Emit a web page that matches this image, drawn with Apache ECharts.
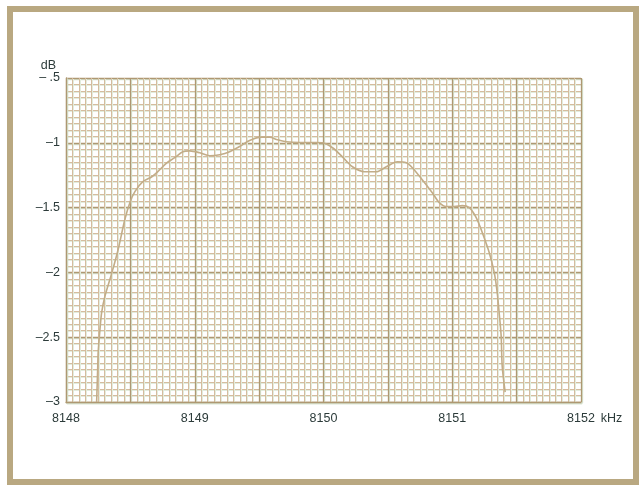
<!DOCTYPE html>
<html>
<head>
<meta charset="utf-8">
<script src="https://cdn.jsdelivr.net/npm/echarts@6/dist/echarts.min.js"></script>
<style>
html,body{margin:0;padding:0;background:#fff;}
#chart{width:642px;height:485px;}
</style>
</head>
<body>
<div id="chart"></div>
<script>
// Frequency response of the filter (kHz vs dB)
var freqKHz = [8148.238, 8148.246, 8148.250, 8148.264, 8148.277, 8148.302, 8148.357, 8148.405, 8148.457, 8148.496,
  8148.535, 8148.597, 8148.667, 8148.713, 8148.783, 8148.845, 8148.907, 8148.961, 8149.039, 8149.116,
  8149.194, 8149.271, 8149.349, 8149.426, 8149.517, 8149.581, 8149.643, 8149.711, 8149.814, 8149.943,
  8149.992, 8150.070, 8150.147, 8150.225, 8150.318, 8150.411, 8150.488, 8150.574, 8150.643, 8150.690,
  8150.767, 8150.845, 8150.899, 8150.953, 8151.016, 8151.078, 8151.132, 8151.186, 8151.233, 8151.287,
  8151.326, 8151.349, 8151.364, 8151.380, 8151.388, 8151.411];
var gainDB = [-3.0, -2.746, -2.615, -2.438, -2.308, -2.185, -2.0, -1.823, -1.592, -1.462,
  -1.377, -1.300, -1.262, -1.223, -1.154, -1.115, -1.069, -1.062, -1.077, -1.100,
  -1.092, -1.069, -1.028, -0.982, -0.956, -0.956, -0.977, -0.992, -0.998, -0.998,
  -1.0, -1.038, -1.108, -1.185, -1.223, -1.223, -1.185, -1.146, -1.154, -1.192,
  -1.285, -1.385, -1.462, -1.492, -1.492, -1.485, -1.500, -1.577, -1.692, -1.846,
  -2.0, -2.154, -2.308, -2.492, -2.723, -2.923];
var xTicks = [8148, 8149, 8150, 8151, 8152];
var yTicks = [-0.5, -1, -1.5, -2, -2.5, -3];

var xMin = xTicks[0], xMax = xTicks[xTicks.length - 1];
var yMin = yTicks[yTicks.length - 1], yMax = yTicks[0];

var labelFont = {fontFamily: 'Liberation Sans', fontSize: 12.5, color: '#2c3b3a'};

function fmtY(v) {
  if (Math.abs(v + 0.5) < 1e-9) return '\u2013 .5';
  return '\u2013' + String(Math.abs(v));
}

function paperX(gridIndex, major, minor, showLabels) {
  return {
    type: 'value', gridIndex: gridIndex, min: xMin, max: xMax, interval: 0.5,
    axisLine: {show: true, onZero: false, lineStyle: {color: major, width: 1.3}},
    axisTick: {show: false},
    minorTick: {show: false, splitNumber: 10},
    splitLine: {show: true, lineStyle: {color: major, width: 1.3}},
    minorSplitLine: {show: true, lineStyle: {color: minor, width: 1}},
    axisLabel: showLabels ? Object.assign({
      margin: 10,
      formatter: function (v) { return xTicks.indexOf(v) >= 0 ? String(v) : ''; }
    }, labelFont) : {show: false},
    name: showLabels ? 'kHz' : '',
    nameLocation: 'end', nameGap: 19,
    nameTextStyle: Object.assign({align: 'left', verticalAlign: 'top', padding: [10, 0, 0, 0]}, labelFont)
  };
}
function paperY(gridIndex, major, minor, showLabels) {
  return {
    type: 'value', gridIndex: gridIndex, min: yMin, max: yMax, interval: 0.5,
    axisLine: {show: true, onZero: false, lineStyle: {color: major, width: 1.3}},
    axisTick: {show: false},
    minorTick: {show: false, splitNumber: 10},
    splitLine: {show: true, lineStyle: {color: major, width: 1.3}},
    minorSplitLine: {show: true, lineStyle: {color: minor, width: 1}},
    axisLabel: showLabels ? Object.assign({margin: 6, formatter: fmtY}, labelFont) : {show: false},
    name: showLabels ? 'dB' : '',
    nameLocation: 'end', nameGap: 6,
    nameTextStyle: Object.assign({align: 'right', padding: [0, 10, 0, 0]}, labelFont)
  };
}

var chart = echarts.init(document.getElementById('chart'), null, {renderer: 'canvas'});
chart.setOption({
  backgroundColor: '#ffffff',
  animation: false,
  grid: [
    {left: 67, right: 60, top: 79, bottom: 82},
    {left: 66, right: 61, top: 78, bottom: 83}
  ],
  xAxis: [paperX(0, '#d6e2cf', '#e2ecdd', false), paperX(1, '#ae9872', '#d5bc9e', true)],
  yAxis: [paperY(0, '#d6e2cf', '#e2ecdd', false), paperY(1, '#ae9872', '#d5bc9e', true)],
  graphic: [{
    type: 'rect', z: 100, silent: true,
    shape: {x: 10, y: 9, width: 626, height: 473},
    style: {fill: 'none', stroke: '#b9a881', lineWidth: 6}
  }],
  series: [{
    type: 'line', xAxisIndex: 1, yAxisIndex: 1,
    data: freqKHz.map(function (f, i) { return [f, gainDB[i]]; }),
    smooth: 0.3, showSymbol: false, z: 10,
    lineStyle: {color: '#c2ad88', width: 1.6}
  }]
});
</script>
</body>
</html>
